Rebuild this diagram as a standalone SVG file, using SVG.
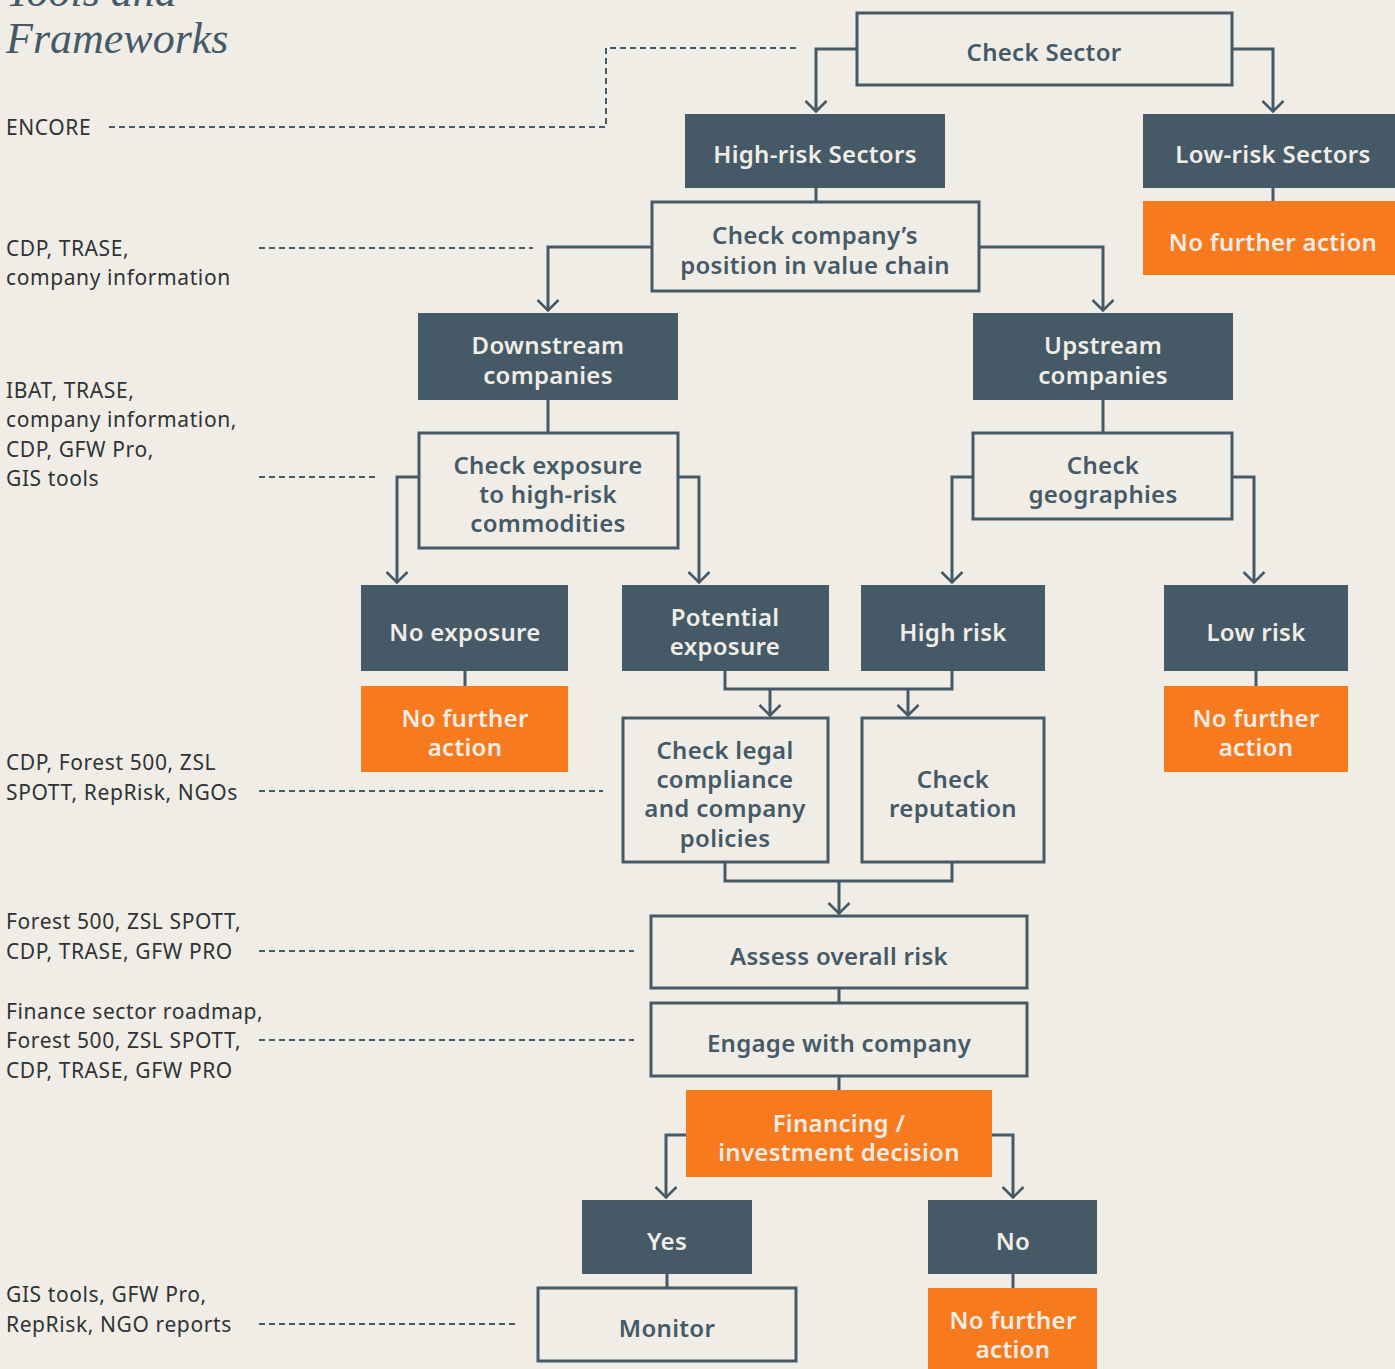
<svg xmlns="http://www.w3.org/2000/svg" width="1395" height="1369" viewBox="0 0 1395 1369">
<defs>
<marker id="arr" viewBox="0 0 14 24" refX="12.5" refY="12" markerWidth="14" markerHeight="24" markerUnits="userSpaceOnUse" orient="auto">
<path d="M1.5,1.5 L12,12 L1.5,22.5" fill="none" stroke="#455a66" stroke-width="2.6"/>
</marker>
<style>
.bg{fill:#f0ede6}
.out{fill:#f0ede6;stroke:#455a66;stroke-width:3}
.dark{fill:#455a66}
.org{fill:#f77a1f}
.t{font-family:"Noto Sans","DejaVu Sans",sans-serif;font-weight:600;font-size:24px;letter-spacing:0.3px;text-anchor:middle;dominant-baseline:central}
.to{fill:#455a66}
.tl{fill:#f0ede6}
.lab{font-family:"Noto Sans","DejaVu Sans",sans-serif;font-size:21px;letter-spacing:0.6px;fill:#2f3335;dominant-baseline:central}
.c{fill:none;stroke:#455a66;stroke-width:3}
.d{fill:none;stroke:#455a66;stroke-width:2;stroke-dasharray:6 4}
.title{font-family:"Liberation Serif","DejaVu Serif",serif;font-style:italic;font-size:44px;fill:#455a66}
</style>
</defs>
<rect class="bg" x="0" y="0" width="1395" height="1369"/>
<g id="title">
<text class="title" x="6" y="6">Tools and</text>
<text class="title" x="6" y="53">Frameworks</text>
</g>
<g id="labels">
<text class="lab" x="6" y="127">ENCORE</text>
<text class="lab" x="6" y="248">CDP, TRASE,</text>
<text class="lab" x="6" y="277">company information</text>
<text class="lab" x="6" y="390">IBAT, TRASE,</text>
<text class="lab" x="6" y="419">company information,</text>
<text class="lab" x="6" y="449">CDP, GFW Pro,</text>
<text class="lab" x="6" y="478">GIS tools</text>
<text class="lab" x="6" y="762">CDP, Forest 500, ZSL</text>
<text class="lab" x="6" y="792">SPOTT, RepRisk, NGOs</text>
<text class="lab" x="6" y="921">Forest 500, ZSL SPOTT,</text>
<text class="lab" x="6" y="951">CDP, TRASE, GFW PRO</text>
<text class="lab" x="6" y="1011">Finance sector roadmap,</text>
<text class="lab" x="6" y="1040">Forest 500, ZSL SPOTT,</text>
<text class="lab" x="6" y="1070">CDP, TRASE, GFW PRO</text>
<text class="lab" x="6" y="1294">GIS tools, GFW Pro,</text>
<text class="lab" x="6" y="1324">RepRisk, NGO reports</text>
</g>
<g id="connectors">
<path class="d" d="M109,127 H606 V48 H797"/>
<path class="d" d="M259,248 H533"/>
<path class="d" d="M259,477 H378"/>
<path class="d" d="M259,791 H603"/>
<path class="d" d="M259,951 H634"/>
<path class="d" d="M259,1040 H634"/>
<path class="d" d="M259,1324 H518"/>
<path class="c" d="M857,49 H816 V112" marker-end="url(#arr)"/>
<path class="c" d="M1232,49 H1273 V112" marker-end="url(#arr)"/>
<path class="c" d="M816,188 V202"/>
<path class="c" d="M1273,188 V201"/>
<path class="c" d="M652,247 H548 V311" marker-end="url(#arr)"/>
<path class="c" d="M979,247 H1103 V311" marker-end="url(#arr)"/>
<path class="c" d="M548,400 V433"/>
<path class="c" d="M1103,400 V433"/>
<path class="c" d="M419,477 H397 V583" marker-end="url(#arr)"/>
<path class="c" d="M678,477 H699 V583" marker-end="url(#arr)"/>
<path class="c" d="M973,477 H952 V583" marker-end="url(#arr)"/>
<path class="c" d="M1232,477 H1254 V583" marker-end="url(#arr)"/>
<path class="c" d="M465,671 V686"/>
<path class="c" d="M1256,671 V686"/>
<path class="c" d="M725,671 V689 H952 V671"/>
<path class="c" d="M770,689 V716" marker-end="url(#arr)"/>
<path class="c" d="M908,689 V716" marker-end="url(#arr)"/>
<path class="c" d="M725,862 V881 H952 V862"/>
<path class="c" d="M839,881 V914" marker-end="url(#arr)"/>
<path class="c" d="M839,988 V1003"/>
<path class="c" d="M839,1076 V1090"/>
<path class="c" d="M686,1135 H666 V1198" marker-end="url(#arr)"/>
<path class="c" d="M992,1135 H1013 V1198" marker-end="url(#arr)"/>
<path class="c" d="M667,1274 V1288"/>
<path class="c" d="M1013,1274 V1288"/>
</g>
<g id="n-check-sector"><rect class="out" x="857" y="13" width="375" height="72"/><text class="t to" x="1044" y="51">Check Sector</text></g>
<g id="n-high-risk-sectors"><rect class="dark" x="685" y="114" width="260" height="74"/><text class="t tl" x="815" y="153">High-risk Sectors</text></g>
<g id="n-low-risk-sectors"><rect class="dark" x="1143" y="114" width="252" height="74"/><text class="t tl" x="1273" y="153">Low-risk Sectors</text></g>
<g id="n-nfa-1"><rect class="org" x="1143" y="201" width="252" height="74"/><text class="t tl" x="1273" y="241">No further action</text></g>
<g id="n-check-position"><rect class="out" x="652" y="202" width="327" height="89"/><text class="t to" x="815" y="234">Check company’s</text><text class="t to" x="815" y="264">position in value chain</text></g>
<g id="n-downstream"><rect class="dark" x="418" y="313" width="260" height="87"/><text class="t tl" x="548" y="344">Downstream</text><text class="t tl" x="548" y="374">companies</text></g>
<g id="n-upstream"><rect class="dark" x="973" y="313" width="260" height="87"/><text class="t tl" x="1103" y="344">Upstream</text><text class="t tl" x="1103" y="374">companies</text></g>
<g id="n-check-exposure"><rect class="out" x="419" y="433" width="259" height="115"/><text class="t to" x="548" y="464">Check exposure</text><text class="t to" x="548" y="493">to high-risk</text><text class="t to" x="548" y="522">commodities</text></g>
<g id="n-check-geographies"><rect class="out" x="973" y="433" width="259" height="86"/><text class="t to" x="1103" y="464">Check</text><text class="t to" x="1103" y="493">geographies</text></g>
<g id="n-no-exposure"><rect class="dark" x="361" y="585" width="207" height="86"/><text class="t tl" x="465" y="631">No exposure</text></g>
<g id="n-potential-exposure"><rect class="dark" x="622" y="585" width="207" height="86"/><text class="t tl" x="725" y="616">Potential</text><text class="t tl" x="725" y="645">exposure</text></g>
<g id="n-high-risk"><rect class="dark" x="861" y="585" width="184" height="86"/><text class="t tl" x="953" y="631">High risk</text></g>
<g id="n-low-risk"><rect class="dark" x="1164" y="585" width="184" height="86"/><text class="t tl" x="1256" y="631">Low risk</text></g>
<g id="n-nfa-2"><rect class="org" x="361" y="686" width="207" height="86"/><text class="t tl" x="465" y="717">No further</text><text class="t tl" x="465" y="746">action</text></g>
<g id="n-nfa-3"><rect class="org" x="1164" y="686" width="184" height="86"/><text class="t tl" x="1256" y="717">No further</text><text class="t tl" x="1256" y="746">action</text></g>
<g id="n-check-legal"><rect class="out" x="623" y="718" width="205" height="144"/><text class="t to" x="725" y="749">Check legal</text><text class="t to" x="725" y="778">compliance</text><text class="t to" x="725" y="807">and company</text><text class="t to" x="725" y="837">policies</text></g>
<g id="n-check-reputation"><rect class="out" x="862" y="718" width="182" height="144"/><text class="t to" x="953" y="778">Check</text><text class="t to" x="953" y="807">reputation</text></g>
<g id="n-assess"><rect class="out" x="651" y="916" width="376" height="72"/><text class="t to" x="839" y="955">Assess overall risk</text></g>
<g id="n-engage"><rect class="out" x="651" y="1003" width="376" height="73"/><text class="t to" x="839" y="1042">Engage with company</text></g>
<g id="n-financing"><rect class="org" x="686" y="1090" width="306" height="87"/><text class="t tl" x="839" y="1122">Financing /</text><text class="t tl" x="839" y="1151">investment decision</text></g>
<g id="n-yes"><rect class="dark" x="582" y="1200" width="170" height="74"/><text class="t tl" x="667" y="1240">Yes</text></g>
<g id="n-no"><rect class="dark" x="928" y="1200" width="169" height="74"/><text class="t tl" x="1013" y="1240">No</text></g>
<g id="n-monitor"><rect class="out" x="538" y="1288" width="258" height="73"/><text class="t to" x="667" y="1327">Monitor</text></g>
<g id="n-nfa-4"><rect class="org" x="928" y="1288" width="169" height="81"/><text class="t tl" x="1013" y="1319">No further</text><text class="t tl" x="1013" y="1348">action</text></g>
</svg>
